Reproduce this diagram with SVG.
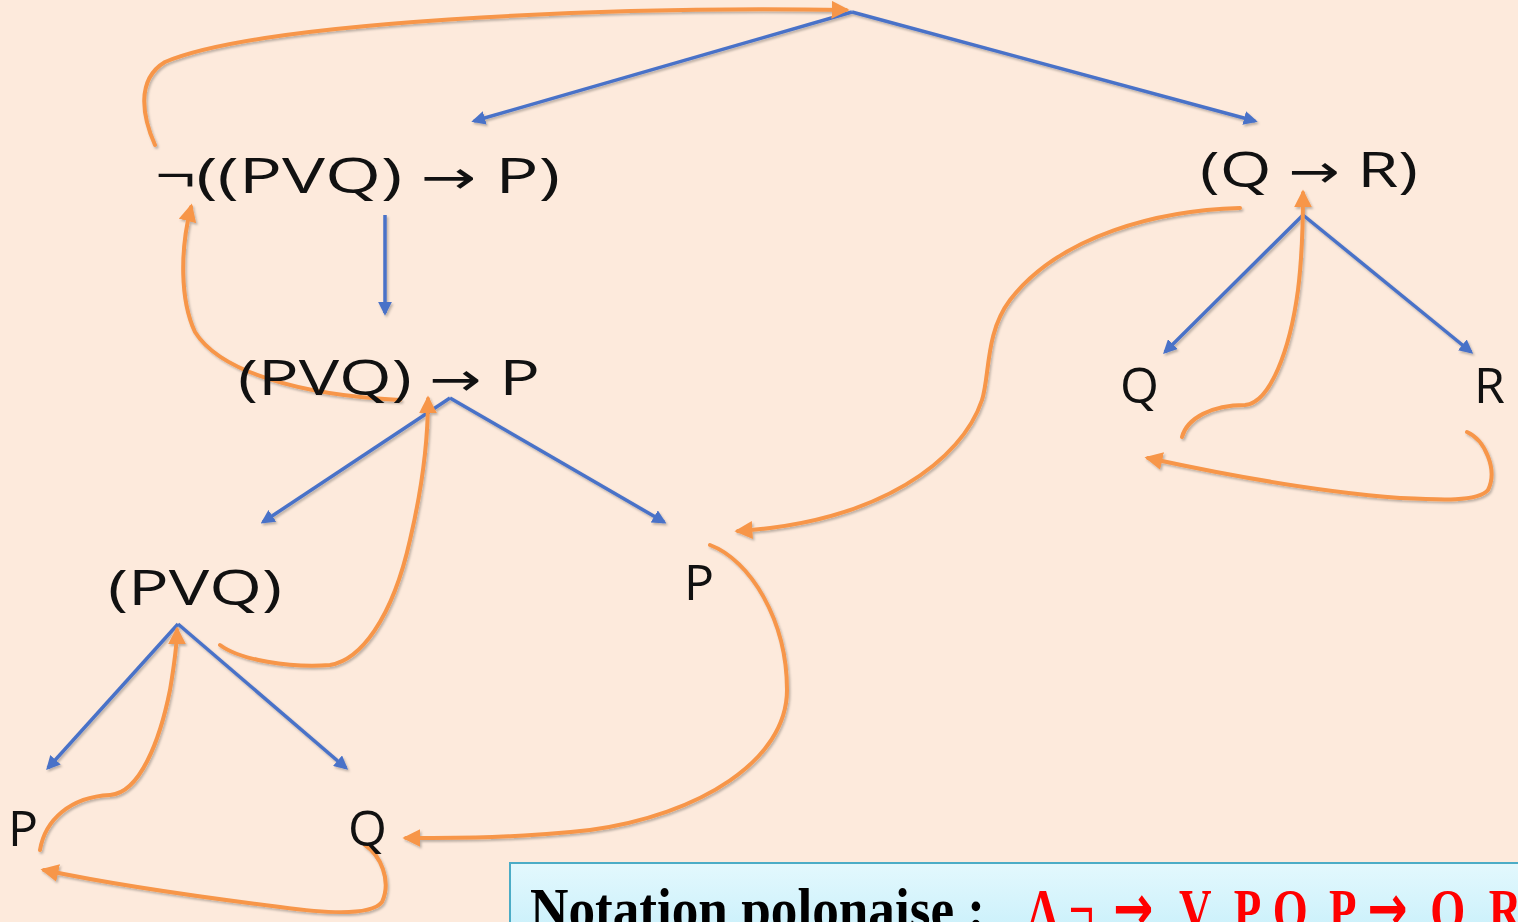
<svg xmlns="http://www.w3.org/2000/svg" width="1518" height="922" viewBox="0 0 1518 922">
<defs>
<style>
.bg{fill:#FDEADC}
.t{font-family:"Open Sans","Noto Sans",sans-serif;font-size:50px;fill:#111}
.ar{font-family:"DejaVu Sans",sans-serif;font-size:46px}
.blue{stroke:#4A72C8;stroke-width:3.5;fill:none;marker-end:url(#ab)}
.or{stroke:#F7964A;stroke-width:4;fill:none;stroke-linecap:round}
.ora{marker-end:url(#ao)}
.rd{font-family:"Liberation Serif",serif;font-weight:bold;font-size:60px;fill:#FF0000}
.rda{font-family:"DejaVu Sans",sans-serif;font-weight:bold;font-size:64px;fill:#FF0000}
</style>
<marker id="ab" viewBox="0 0 10 10" refX="8" refY="5" markerWidth="4" markerHeight="4" orient="auto" markerUnits="strokeWidth">
<path d="M0,0 L10,5 L0,10 z" fill="#4A72C8"/>
</marker>
<marker id="ao" viewBox="0 0 10 10" refX="8" refY="5" markerWidth="4.5" markerHeight="4.5" orient="auto" markerUnits="strokeWidth">
<path d="M0,0 L10,5 L0,10 z" fill="#F7964A"/>
</marker>
<filter id="sh" x="-10%" y="-10%" width="120%" height="120%">
<feDropShadow dx="1.5" dy="2" stdDeviation="1.2" flood-color="#000" flood-opacity="0.25"/>
</filter>
<linearGradient id="box" x1="0" y1="0" x2="0" y2="1">
<stop offset="0" stop-color="#E3F8FD"/>
<stop offset="1" stop-color="#BFEDFA"/>
</linearGradient>
</defs>
<rect class="bg" x="0" y="0" width="1518" height="922"/>

<g id="connectors" filter="url(#sh)">
<g id="tree-edges">
<path class="blue" d="M852,12 L474,121"/>
<path class="blue" d="M852,12 L1255,121"/>
<path class="blue" d="M385,215 L385,313"/>
<path class="blue" d="M450,398 L263,522"/>
<path class="blue" d="M450,398 L664,522"/>
<path class="blue" d="M178,624 L48,768"/>
<path class="blue" d="M178,624 L346,768"/>
<path class="blue" d="M1303,215 L1165,352"/>
<path class="blue" d="M1303,215 L1471,352"/>
</g>
<g id="traversal">
<path class="or ora" d="M155,145 C143,118 135,80 165,62 C260,22 600,6 846,10"/>
<path class="or ora" d="M400,400 C300,395 220,372 195,332 C180,300 180,250 191,207"/>
<path class="or ora" d="M220,645 C240,660 290,668 330,665 C360,660 392,620 410,540 C424,480 428,430 428,399"/>
<path class="or ora" d="M40,850 C45,820 70,797 110,795 C140,793 160,740 170,690 C175,660 177,645 177,630"/>
<path class="or ora" d="M365,845 C380,855 392,880 382,902 C372,915 330,914 280,907 C200,897 110,884 44,870"/>
<path class="or ora" d="M710,545 C750,560 787,620 787,690 C787,760 700,815 590,830 C520,838 460,838 406,838"/>
<path class="or ora" d="M1240,208 C1160,210 1060,235 1010,300 C985,333 990,375 982,400 C962,460 880,522 738,531"/>
<path class="or ora" d="M1182,437 C1187,418 1212,405 1245,405 C1270,403 1290,350 1298,290 C1303,250 1303,215 1303,193"/>
<path class="or ora" d="M1467,432 C1485,440 1498,470 1488,490 C1478,502 1440,500 1400,498 C1320,492 1240,478 1148,458"/>
</g>
</g>

<g id="n-root-left"><text class="t" x="155" y="193" textLength="405" lengthAdjust="spacingAndGlyphs">¬((PVQ) <tspan class="ar">→</tspan> P)</text></g>
<g id="n-root-right"><text class="t" x="1200" y="187" textLength="218" lengthAdjust="spacingAndGlyphs">(Q <tspan class="ar">→</tspan> R)</text></g>
<g id="n-impl"><text class="t" x="238" y="395" textLength="302" lengthAdjust="spacingAndGlyphs">(PVQ) <tspan class="ar">→</tspan> P</text></g>
<g id="n-or"><text class="t" x="108" y="605" textLength="174" lengthAdjust="spacingAndGlyphs">(PVQ)</text></g>
<g id="n-p1"><text class="t" x="684" y="600">P</text></g>
<g id="n-q1"><text class="t" x="1120" y="403">Q</text></g>
<g id="n-r"><text class="t" x="1474" y="403">R</text></g>
<g id="n-p2"><text class="t" x="8" y="846">P</text></g>
<g id="n-q2"><text class="t" x="348" y="846">Q</text></g>

<g id="notation">
<rect x="510" y="863" width="1030" height="100" fill="url(#box)" stroke="#4BACC6" stroke-width="2"/>
<text x="530" y="929" textLength="455" lengthAdjust="spacingAndGlyphs" font-family="'Liberation Serif',serif" font-weight="bold" font-size="60" fill="#000">Notation polonaise :</text>
<g transform="scale(0.75 1)">
<text class="rd" y="930" x="1369">Λ</text>
<text class="rd" y="930" x="1425">¬</text>
<text class="rda" y="930" x="1484">→</text>
<text class="rd" y="930" x="1572">V</text>
<text class="rd" y="930" x="1645">P</text>
<text class="rd" y="930" x="1697">Q</text>
<text class="rd" y="930" x="1772">P</text>
<text class="rda" y="930" x="1823">→</text>
<text class="rd" y="930" x="1907">Q</text>
<text class="rd" y="930" x="1985">R</text>
</g>
</g>
</svg>
